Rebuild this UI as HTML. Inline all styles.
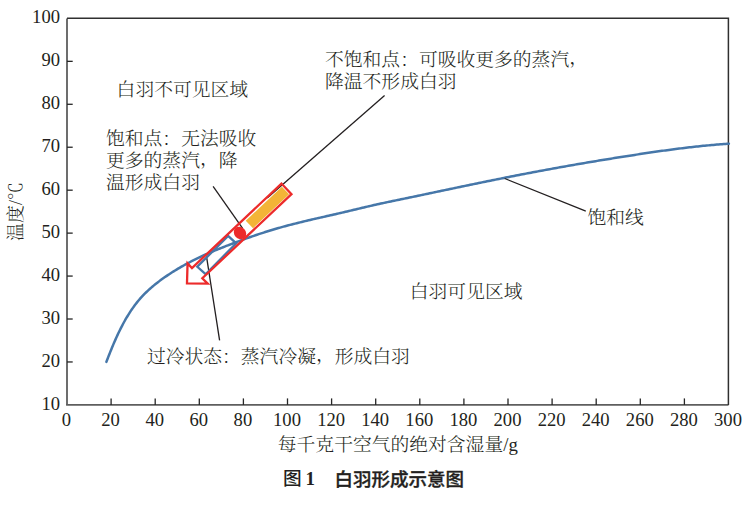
<!DOCTYPE html>
<html><head><meta charset="utf-8"><style>
html,body{margin:0;padding:0;background:#fff;}
body{width:754px;height:517px;overflow:hidden;}
svg{display:block}
.t{font-family:'Liberation Serif','Noto Serif CJK SC',serif;font-size:18px;fill:#231f20;font-weight:300;}
.n{font-family:'Liberation Serif',serif;font-size:18px;fill:#231f20;}
.cap{font-family:'Liberation Serif','Noto Sans CJK SC',sans-serif;font-size:17px;fill:#231f20;}
</style></head><body>
<svg width="754" height="517" viewBox="0 0 754 517">
<path d="M67.0,404.9 L67.0,18.4" stroke="#5e5e5e" stroke-width="1.8" fill="none"/>
<path d="M66.1,404.9 L728.5,404.9" stroke="#5e5e5e" stroke-width="1.8" fill="none"/>
<path d="M67.0,18.2 L728.4,18.2 L728.4,404.9" stroke="#303030" stroke-width="1.5" fill="none"/>
<line x1="67.0" y1="361.96" x2="72.70" y2="361.96" stroke="#262626" stroke-width="1.3"/>
<line x1="67.0" y1="319.01" x2="72.70" y2="319.01" stroke="#262626" stroke-width="1.3"/>
<line x1="67.0" y1="276.07" x2="72.70" y2="276.07" stroke="#262626" stroke-width="1.3"/>
<line x1="67.0" y1="233.12" x2="72.70" y2="233.12" stroke="#262626" stroke-width="1.3"/>
<line x1="67.0" y1="190.18" x2="72.70" y2="190.18" stroke="#262626" stroke-width="1.3"/>
<line x1="67.0" y1="147.23" x2="72.70" y2="147.23" stroke="#262626" stroke-width="1.3"/>
<line x1="67.0" y1="104.29" x2="72.70" y2="104.29" stroke="#262626" stroke-width="1.3"/>
<line x1="67.0" y1="61.34" x2="72.70" y2="61.34" stroke="#262626" stroke-width="1.3"/>
<line x1="111.10" y1="404.9" x2="111.10" y2="398.40" stroke="#262626" stroke-width="1.3"/>
<line x1="155.20" y1="404.9" x2="155.20" y2="398.40" stroke="#262626" stroke-width="1.3"/>
<line x1="199.30" y1="404.9" x2="199.30" y2="398.40" stroke="#262626" stroke-width="1.3"/>
<line x1="243.40" y1="404.9" x2="243.40" y2="398.40" stroke="#262626" stroke-width="1.3"/>
<line x1="287.50" y1="404.9" x2="287.50" y2="398.40" stroke="#262626" stroke-width="1.3"/>
<line x1="331.60" y1="404.9" x2="331.60" y2="398.40" stroke="#262626" stroke-width="1.3"/>
<line x1="375.70" y1="404.9" x2="375.70" y2="398.40" stroke="#262626" stroke-width="1.3"/>
<line x1="419.80" y1="404.9" x2="419.80" y2="398.40" stroke="#262626" stroke-width="1.3"/>
<line x1="463.90" y1="404.9" x2="463.90" y2="398.40" stroke="#262626" stroke-width="1.3"/>
<line x1="508.00" y1="404.9" x2="508.00" y2="398.40" stroke="#262626" stroke-width="1.3"/>
<line x1="552.10" y1="404.9" x2="552.10" y2="398.40" stroke="#262626" stroke-width="1.3"/>
<line x1="596.20" y1="404.9" x2="596.20" y2="398.40" stroke="#262626" stroke-width="1.3"/>
<line x1="640.30" y1="404.9" x2="640.30" y2="398.40" stroke="#262626" stroke-width="1.3"/>
<line x1="684.40" y1="404.9" x2="684.40" y2="398.40" stroke="#262626" stroke-width="1.3"/>
<text class="n" text-anchor="end" transform="matrix(1.035 0 0 1 60.00 409.70)">10</text>
<text class="n" text-anchor="end" transform="matrix(1.035 0 0 1 60.00 366.76)">20</text>
<text class="n" text-anchor="end" transform="matrix(1.035 0 0 1 60.00 323.81)">30</text>
<text class="n" text-anchor="end" transform="matrix(1.035 0 0 1 60.00 280.87)">40</text>
<text class="n" text-anchor="end" transform="matrix(1.035 0 0 1 60.00 237.92)">50</text>
<text class="n" text-anchor="end" transform="matrix(1.035 0 0 1 60.00 194.98)">60</text>
<text class="n" text-anchor="end" transform="matrix(1.035 0 0 1 60.00 152.03)">70</text>
<text class="n" text-anchor="end" transform="matrix(1.035 0 0 1 60.00 109.09)">80</text>
<text class="n" text-anchor="end" transform="matrix(1.035 0 0 1 60.00 66.14)">90</text>
<text class="n" text-anchor="end" transform="matrix(1.035 0 0 1 60.00 23.20)">100</text>
<text class="n" text-anchor="middle" transform="matrix(1.035 0 0 1 66.50 426.20)">0</text>
<text class="n" text-anchor="middle" transform="matrix(1.035 0 0 1 110.60 426.20)">20</text>
<text class="n" text-anchor="middle" transform="matrix(1.035 0 0 1 154.70 426.20)">40</text>
<text class="n" text-anchor="middle" transform="matrix(1.035 0 0 1 198.80 426.20)">60</text>
<text class="n" text-anchor="middle" transform="matrix(1.035 0 0 1 242.90 426.20)">80</text>
<text class="n" text-anchor="middle" transform="matrix(1.035 0 0 1 287.00 426.20)">100</text>
<text class="n" text-anchor="middle" transform="matrix(1.035 0 0 1 331.10 426.20)">120</text>
<text class="n" text-anchor="middle" transform="matrix(1.035 0 0 1 375.20 426.20)">140</text>
<text class="n" text-anchor="middle" transform="matrix(1.035 0 0 1 419.30 426.20)">160</text>
<text class="n" text-anchor="middle" transform="matrix(1.035 0 0 1 463.40 426.20)">180</text>
<text class="n" text-anchor="middle" transform="matrix(1.035 0 0 1 507.50 426.20)">200</text>
<text class="n" text-anchor="middle" transform="matrix(1.035 0 0 1 551.60 426.20)">220</text>
<text class="n" text-anchor="middle" transform="matrix(1.035 0 0 1 595.70 426.20)">240</text>
<text class="n" text-anchor="middle" transform="matrix(1.035 0 0 1 639.80 426.20)">260</text>
<text class="n" text-anchor="middle" transform="matrix(1.035 0 0 1 683.90 426.20)">280</text>
<text class="n" text-anchor="middle" transform="matrix(1.035 0 0 1 728.00 426.20)">300</text>
<text class="t" transform="matrix(1.044 0 0 1 277.80 450.80)">每千克干空气的绝对含湿量/g</text>
<text class="t" transform="translate(22,241) rotate(-90)">温度/℃</text>
<text style="font-family:'Noto Sans CJK SC',sans-serif;font-size:18.7px;font-weight:500;fill:#231f20" x="282.9" y="485">图</text>
<text style="font-family:'Liberation Serif',serif;font-size:19px;font-weight:bold;fill:#231f20" x="305.6" y="485">1</text>
<text style="font-family:'Noto Sans CJK SC',sans-serif;font-size:18.5px;font-weight:500;fill:#231f20" stroke="#231f20" stroke-width="0.35" x="334.6" y="485.8">白羽形成示意图</text>
<path d="M106.38,361.88 L106.99,360.30 L107.60,358.71 L108.21,357.12 L108.84,355.53 L109.46,353.94 L110.10,352.35 L110.74,350.75 L111.38,349.16 L112.04,347.57 L112.70,345.97 L113.37,344.38 L114.05,342.79 L114.74,341.20 L115.44,339.62 L116.15,338.04 L116.86,336.46 L117.59,334.88 L118.33,333.31 L119.08,331.75 L119.84,330.19 L120.62,328.64 L121.40,327.09 L122.20,325.56 L123.01,324.03 L123.83,322.50 L124.67,320.99 L125.52,319.49 L126.39,317.99 L127.27,316.51 L128.17,315.04 L129.09,313.58 L130.02,312.13 L130.96,310.69 L131.93,309.27 L132.91,307.86 L133.91,306.47 L134.93,305.09 L135.97,303.73 L137.02,302.38 L138.10,301.05 L139.20,299.74 L140.32,298.44 L141.46,297.17 L142.62,295.91 L143.80,294.67 L145.00,293.45 L146.22,292.25 L147.46,291.06 L148.72,289.90 L150.00,288.74 L151.29,287.61 L152.60,286.49 L153.92,285.39 L155.26,284.30 L156.61,283.23 L157.97,282.17 L159.35,281.12 L160.73,280.09 L162.13,279.07 L163.53,278.07 L164.95,277.08 L166.37,276.10 L167.81,275.13 L169.25,274.18 L170.70,273.23 L172.16,272.30 L173.62,271.38 L175.09,270.47 L176.57,269.58 L178.05,268.69 L179.55,267.82 L181.04,266.95 L182.54,266.10 L184.05,265.26 L185.56,264.43 L187.08,263.61 L188.60,262.80 L190.13,262.00 L191.66,261.20 L193.19,260.42 L194.73,259.65 L196.27,258.89 L197.82,258.14 L199.37,257.39 L200.93,256.66 L202.49,255.93 L204.05,255.21 L205.62,254.51 L207.19,253.81 L208.76,253.11 L210.34,252.43 L211.93,251.76 L213.51,251.09 L215.10,250.43 L216.69,249.77 L218.29,249.13 L219.89,248.48 L221.49,247.85 L223.09,247.22 L224.70,246.59 L226.31,245.96 L227.92,245.34 L229.53,244.73 L231.14,244.11 L232.75,243.50 L234.36,242.89 L235.98,242.28 L237.60,241.67 L239.21,241.07 L240.83,240.47 L242.45,239.87 L244.07,239.28 L245.69,238.69 L247.32,238.11 L248.94,237.53 L250.57,236.96 L252.20,236.39 L253.83,235.83 L255.46,235.27 L257.09,234.72 L258.73,234.17 L260.36,233.63 L262.00,233.10 L263.64,232.57 L265.28,232.04 L266.92,231.53 L268.57,231.01 L270.21,230.51 L271.86,230.01 L273.51,229.51 L275.16,229.02 L276.81,228.54 L278.47,228.06 L280.12,227.59 L281.78,227.12 L283.44,226.66 L285.10,226.21 L286.76,225.76 L288.43,225.31 L290.09,224.87 L291.76,224.44 L293.43,224.01 L295.10,223.59 L296.77,223.17 L298.45,222.75 L300.12,222.34 L301.80,221.93 L303.47,221.52 L305.15,221.12 L306.83,220.72 L308.51,220.33 L310.19,219.93 L311.87,219.54 L313.55,219.15 L315.23,218.77 L316.91,218.38 L318.59,217.99 L320.28,217.61 L321.96,217.23 L323.64,216.85 L325.33,216.47 L327.01,216.08 L328.69,215.70 L330.38,215.32 L332.06,214.94 L333.74,214.56 L335.42,214.17 L337.11,213.79 L338.79,213.40 L340.47,213.01 L342.15,212.62 L343.83,212.23 L345.51,211.83 L347.18,211.44 L348.86,211.04 L350.54,210.64 L352.21,210.24 L353.89,209.84 L355.57,209.44 L357.24,209.03 L358.92,208.63 L360.59,208.23 L362.27,207.83 L363.95,207.43 L365.62,207.04 L367.30,206.64 L368.98,206.25 L370.65,205.86 L372.33,205.47 L374.01,205.09 L375.69,204.71 L377.38,204.33 L379.06,203.96 L380.74,203.59 L382.43,203.22 L384.11,202.86 L385.80,202.50 L387.48,202.14 L389.17,201.79 L390.86,201.43 L392.55,201.08 L394.24,200.73 L395.92,200.38 L397.61,200.03 L399.30,199.68 L400.99,199.33 L402.68,198.98 L404.37,198.62 L406.06,198.27 L407.74,197.92 L409.43,197.57 L411.12,197.22 L412.81,196.86 L414.50,196.51 L416.18,196.16 L417.87,195.80 L419.56,195.45 L421.25,195.10 L422.94,194.74 L424.62,194.39 L426.31,194.03 L428.00,193.68 L429.69,193.32 L431.37,192.97 L433.06,192.61 L434.75,192.26 L436.44,191.90 L438.13,191.55 L439.81,191.19 L441.50,190.84 L443.19,190.48 L444.88,190.13 L446.56,189.77 L448.25,189.42 L449.94,189.06 L451.63,188.71 L453.31,188.35 L455.00,188.00 L456.69,187.65 L458.38,187.29 L460.07,186.94 L461.75,186.59 L463.44,186.23 L465.13,185.88 L466.82,185.53 L468.51,185.18 L470.20,184.83 L471.88,184.48 L473.57,184.13 L475.26,183.78 L476.95,183.43 L478.64,183.08 L480.33,182.73 L482.02,182.38 L483.71,182.04 L485.40,181.69 L487.09,181.35 L488.78,181.00 L490.47,180.66 L492.15,180.31 L493.84,179.97 L495.54,179.63 L497.23,179.29 L498.92,178.95 L500.61,178.61 L502.30,178.27 L503.99,177.93 L505.68,177.59 L507.37,177.25 L509.06,176.92 L510.75,176.58 L512.45,176.25 L514.14,175.92 L515.83,175.59 L517.52,175.26 L519.21,174.93 L520.91,174.60 L522.60,174.27 L524.29,173.95 L525.99,173.62 L527.68,173.30 L529.37,172.97 L531.07,172.65 L532.76,172.33 L534.46,172.01 L536.15,171.69 L537.85,171.37 L539.54,171.06 L541.24,170.74 L542.93,170.43 L544.63,170.11 L546.32,169.80 L548.02,169.49 L549.72,169.18 L551.41,168.87 L553.11,168.56 L554.81,168.25 L556.50,167.94 L558.20,167.64 L559.90,167.33 L561.59,167.03 L563.29,166.73 L564.99,166.42 L566.69,166.12 L568.39,165.82 L570.08,165.53 L571.78,165.23 L573.48,164.93 L575.18,164.64 L576.88,164.34 L578.58,164.05 L580.28,163.75 L581.98,163.46 L583.68,163.17 L585.38,162.88 L587.08,162.59 L588.78,162.30 L590.48,162.02 L592.18,161.73 L593.88,161.45 L595.58,161.16 L597.28,160.88 L598.98,160.60 L600.69,160.32 L602.39,160.04 L604.09,159.76 L605.79,159.48 L607.49,159.20 L609.20,158.92 L610.90,158.65 L612.60,158.37 L614.30,158.10 L616.01,157.83 L617.71,157.56 L619.41,157.28 L621.12,157.01 L622.82,156.75 L624.52,156.48 L626.23,156.21 L627.93,155.94 L629.63,155.68 L631.34,155.41 L633.04,155.15 L634.75,154.89 L636.45,154.63 L638.16,154.37 L639.86,154.11 L641.57,153.85 L643.27,153.59 L644.98,153.33 L646.68,153.08 L648.39,152.83 L650.10,152.58 L651.80,152.32 L653.51,152.08 L655.22,151.83 L656.92,151.58 L658.63,151.34 L660.34,151.10 L662.05,150.86 L663.75,150.62 L665.46,150.39 L667.17,150.15 L668.88,149.92 L670.59,149.69 L672.30,149.47 L674.01,149.24 L675.72,149.02 L677.43,148.80 L679.14,148.59 L680.85,148.37 L682.56,148.16 L684.27,147.95 L685.99,147.75 L687.70,147.54 L689.41,147.34 L691.12,147.15 L692.84,146.95 L694.55,146.76 L696.27,146.58 L697.98,146.39 L699.69,146.21 L701.41,146.04 L703.13,145.86 L704.84,145.69 L706.56,145.53 L708.28,145.37 L709.99,145.21 L711.71,145.05 L713.43,144.90 L715.15,144.76 L716.87,144.61 L718.59,144.48 L720.31,144.34 L722.03,144.21 L723.75,144.09 L725.47,143.97 L727.19,143.85 L728.92,143.74" fill="none" stroke="#4677a9" stroke-width="2.5" stroke-linecap="round" stroke-linejoin="round"/>
<line x1="504.7" y1="178.5" x2="585.8" y2="211.2" stroke="#231f20" stroke-width="1.3"/>
<line x1="213.1" y1="186.4" x2="242.8" y2="228.7" stroke="#231f20" stroke-width="1.3"/>
<line x1="384.6" y1="95.5" x2="267.2" y2="198" stroke="#231f20" stroke-width="1.3"/>
<line x1="219.6" y1="340.3" x2="206.5" y2="256.3" stroke="#231f20" stroke-width="1.3"/>
<polygon points="245.74,220.71 281.87,186.87 289.09,194.22 253.02,228.27" fill="#f3b437"/>
<ellipse cx="240.01" cy="232.99" rx="6.7" ry="5.8" transform="rotate(46.65 240.01 232.99)" fill="#ec2b2b"/>
<polygon points="228.1,235.9 236.2,243.3 205.6,274.2 197.3,266.8" fill="none" stroke="#4677a9" stroke-width="2.3"/>
<polygon points="186.99,283.32 187.56,263.38 191.96,268.04 281.47,183.54 291.47,194.12 202.32,278.28 207.71,283.56" fill="none" stroke="#ec2b2b" stroke-width="2.3" stroke-linejoin="miter" stroke-miterlimit="10"/>
<text class="t" transform="matrix(1.044 0 0 1 116.60 96.30)">白羽不可见区域</text>
<text class="t" transform="matrix(1.044 0 0 1 106.00 144.80)">饱和点：无法吸收</text>
<text class="t" transform="matrix(1.044 0 0 1 106.00 166.80)">更多的蒸汽<tspan dy="-2">，</tspan><tspan dy="2">降</tspan></text>
<text class="t" transform="matrix(1.044 0 0 1 106.00 188.80)">温形成白羽</text>
<text class="t" transform="matrix(1.044 0 0 1 325.00 66.00)">不饱和点：可吸收更多的蒸汽<tspan dy="-2">，</tspan></text>
<text class="t" transform="matrix(1.044 0 0 1 325.00 88.00)">降温不形成白羽</text>
<text class="t" transform="matrix(1.044 0 0 1 146.90 362.80)">过冷状态：蒸汽冷凝<tspan dy="-2">，</tspan><tspan dy="2">形</tspan>成白羽</text>
<text class="t" transform="matrix(1.044 0 0 1 409.80 298.30)">白羽可见区域</text>
<text class="t" transform="matrix(1.044 0 0 1 587.50 223.80)">饱和线</text>
</svg></body></html>
